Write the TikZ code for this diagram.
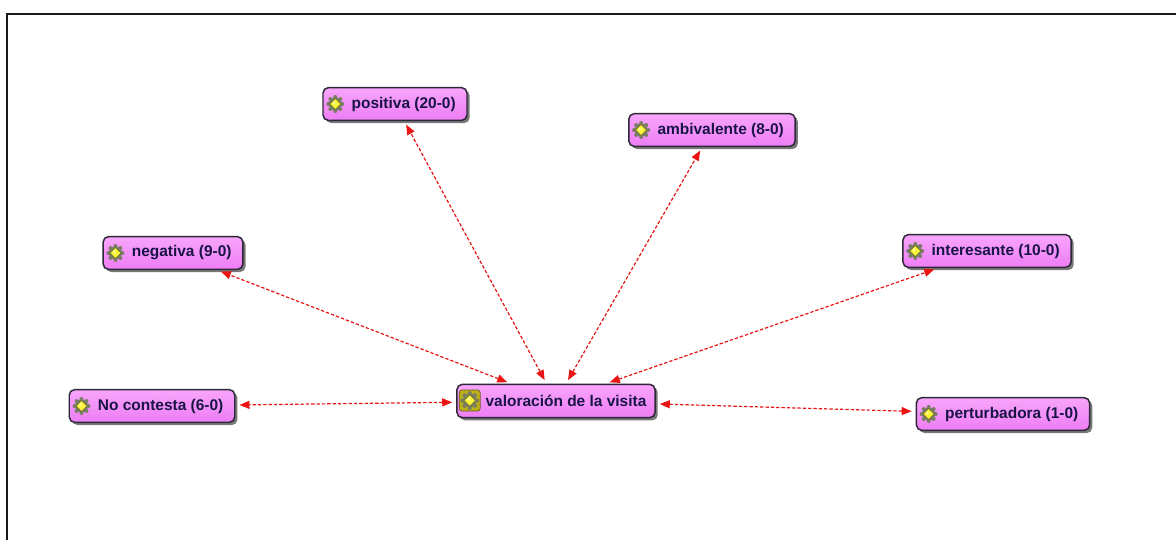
\documentclass[tikz,border=0pt]{standalone}
\usepackage{fontspec}
\setmainfont{Liberation Sans}
\usetikzlibrary{arrows.meta,shadows,calc}
\definecolor{nodefill}{RGB}{238,125,245}
\definecolor{nodetop}{RGB}{248,165,251}
\definecolor{nodeborder}{RGB}{45,40,55}
\definecolor{nodetext}{RGB}{25,20,70}
\definecolor{linkred}{RGB}{235,20,20}
\definecolor{gearcol}{RGB}{120,125,100}
\definecolor{diamondcol}{RGB}{250,245,60}
\definecolor{iconbg}{RGB}{190,175,20}
\begin{document}
\begin{tikzpicture}[x=0.75pt,y=-0.75pt,
  codebox/.style={rectangle, rounded corners=4pt, draw=nodeborder, line width=1.1pt,
    top color=nodetop, bottom color=nodefill, minimum height=24.5pt, inner xsep=8.5pt, inner ysep=2pt,
    font=\fontsize{11.6}{13}\selectfont\bfseries, text=nodetext,
    drop shadow={shadow xshift=2pt, shadow yshift=-2pt, fill=black!75, opacity=0.7}},
  link/.style={draw=linkred, line width=0.9pt, dash pattern=on 2.5pt off 1.5pt,
    {Triangle[length=7.5pt,width=6pt]}-{Triangle[length=7.5pt,width=6pt]},
    shorten <=3pt, shorten >=3pt},
  gear/.pic={
    \foreach \a in {0,45,...,315} \fill[gearcol] (\a:7) circle (2);
    \fill[gearcol] (0,0) circle (6.5);
    \filldraw[fill=diamondcol, draw=olive!70!black, line width=0.4pt] (0,-5.5) -- (5.5,0) -- (0,5.5) -- (-5.5,0) -- cycle;
    \fill[white, opacity=0.6] (-1.2,-1.2) circle (1.4);
  }
]
\useasboundingbox (0,0) rectangle (1176,540);
\fill[white] (0,0) rectangle (1176,540);
\draw[line width=1.5pt, black!90] (7,540) -- (7,14) -- (1176,14);

\node[codebox, minimum height=25pt, inner xsep=6.5pt] (val) at (556,401) {\hspace*{15pt}valoración de la visita};
\node[codebox] (pos) at (395,104) {\hspace*{13pt}positiva (20-0)};
\node[codebox] (amb) at (712,130) {\hspace*{13pt}ambivalente (8-0)};
\node[codebox] (neg) at (173,253) {\hspace*{13pt}negativa (9-0)};
\node[codebox] (int) at (987,251) {\hspace*{13pt}interesante (10-0)};
\node[codebox] (noc) at (152,406) {\hspace*{13pt}No contesta (6-0)};
\node[codebox] (per) at (1003,414) {\hspace*{13pt}perturbadora (1-0)};

\fill[iconbg, draw=olive!60!black, line width=0.5pt, rounded corners=2pt]
  ($(val.west)+(3,-11)$) rectangle ($(val.west)+(24,10)$);
\pic[scale=1.05] at ($(val.west)+(13.5,-0.5)$) {gear};
\foreach \n in {pos,amb,neg,int,noc,per}
  \pic at ($(\n.west)+(13,0)$) {gear};

\draw[link] (val) -- (pos);
\draw[link] (val) -- (amb);
\draw[link] (val) -- (neg);
\draw[link] (val) -- (int);
\draw[link] (val) -- (noc);
\draw[link] (val) -- (per);
\end{tikzpicture}
\end{document}
